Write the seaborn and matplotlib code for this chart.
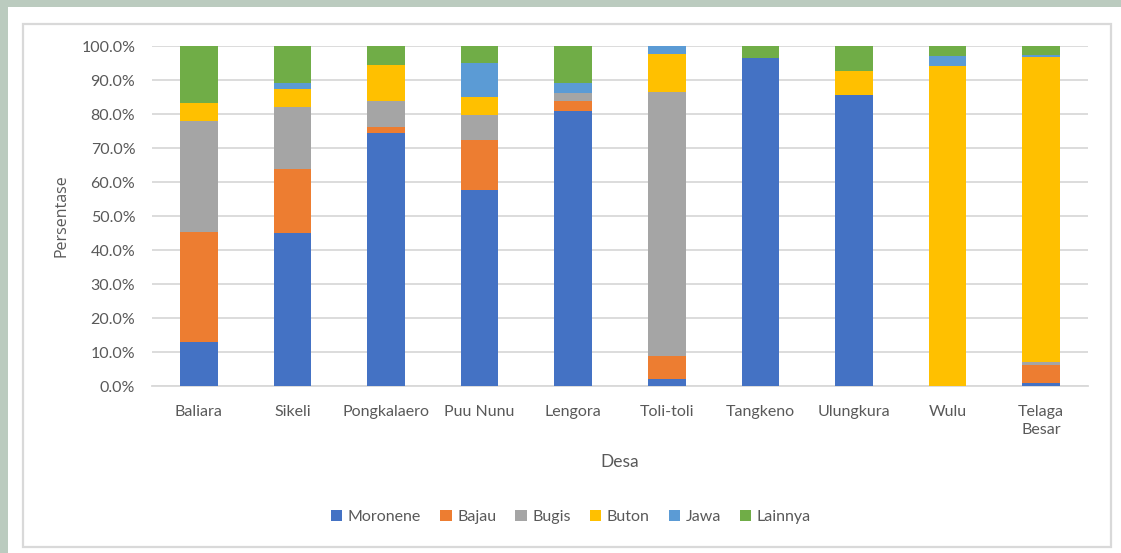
import numpy as np
import pandas as pd
import matplotlib
matplotlib.use("Agg")
import matplotlib.pyplot as plt
import seaborn as sns
from matplotlib.patches import Rectangle, Patch
from matplotlib.ticker import FuncFormatter

# ---- data ----
desa = ["Baliara", "Sikeli", "Pongkalaero", "Puu Nunu", "Lengora",
        "Toli-toli", "Tangkeno", "Ulungkura", "Wulu", "Telaga Besar"]
desa_labels = ["Baliara", "Sikeli", "Pongkalaero", "Puu Nunu", "Lengora",
               "Toli-toli", "Tangkeno", "Ulungkura", "Wulu", "Telaga\nBesar"]
groups = ["Moronene", "Bajau", "Bugis", "Buton", "Jawa", "Lainnya"]
moronene = [13.0, 45.1, 74.4, 57.6, 81.0, 2.2, 96.4, 85.7, 0.0, 0.8]
bajau = [32.4, 18.8, 1.7, 14.8, 2.7, 6.6, 0.0, 0.0, 0.0, 5.3]
bugis = [32.5, 18.2, 7.6, 7.4, 2.6, 77.8, 0.0, 0.0, 0.0, 1.0]
buton = [5.2, 5.3, 10.8, 5.1, 0.0, 11.0, 0.0, 7.0, 94.2, 89.7]
jawa = [0.0, 1.8, 0.0, 10.1, 2.9, 2.4, 0.0, 0.0, 2.9, 0.7]
lainnya = [16.9, 10.8, 5.5, 5.0, 10.8, 0.0, 3.6, 7.3, 2.9, 2.5]
yticks = [0, 10, 20, 30, 40, 50, 60, 70, 80, 90, 100]

colors = ["#4472C4", "#ED7D31", "#A5A5A5", "#FFC000", "#5B9BD5", "#70AD47"]
text_color = "#595959"
grid_color = "#D9D9D9"

sns.set_theme(style="white")
plt.rcParams["font.family"] = ["Lato", "DejaVu Sans"]

W, H = 1121, 553
fig = plt.figure(figsize=(W / 100, H / 100), dpi=100)
fig.patch.set_facecolor("white")

# outer decorations (page background strips and chart border)
bg = "#BBCBBF"
fig.patches.append(Rectangle((0, 1 - 7 / H), 1, 7 / H, transform=fig.transFigure,
                             facecolor=bg, edgecolor="none", zorder=0))
fig.patches.append(Rectangle((0, 0), 8 / W, 1, transform=fig.transFigure,
                             facecolor=bg, edgecolor="none", zorder=0))
fig.patches.append(Rectangle((23 / W, 1 - 547 / H), 1088 / W, 523 / H,
                             transform=fig.transFigure, facecolor="none",
                             edgecolor=grid_color, linewidth=1.6, zorder=1))

ax = fig.add_axes([152 / W, 1 - 386 / H, 936 / W, 340 / H])
ax.set_facecolor("none")

data = np.array([moronene, bajau, bugis, buton, jawa, lainnya])
cum = np.cumsum(data, axis=0)
for i in reversed(range(len(groups))):
    df = pd.DataFrame({"Desa": desa, "v": cum[i]})
    sns.barplot(data=df, x="Desa", y="v", color=colors[i], width=0.4,
                errorbar=None, saturation=1, linewidth=0, ax=ax, zorder=3)

ax.set_xlim(-0.5, len(desa) - 0.5)
ax.set_ylim(0, 100)
ax.set_yticks(yticks)
ax.yaxis.set_major_formatter(FuncFormatter(lambda v, p: f"{v:.1f}%"))
ax.set_xticks(range(len(desa)))
ax.set_xticklabels(desa_labels, color=text_color, fontsize=11.5, linespacing=1.3)
for t in ax.get_yticklabels():
    t.set_color(text_color)
    t.set_fontsize(11.5)
ax.tick_params(axis="both", length=0)
ax.tick_params(axis="x", pad=14)
ax.tick_params(axis="y", pad=12)

ax.grid(axis="y", color=grid_color, linewidth=1.3, zorder=0)
ax.set_axisbelow(True)
for s in ["top", "right", "left"]:
    ax.spines[s].set_visible(False)
ax.spines["bottom"].set_color(grid_color)
ax.spines["bottom"].set_linewidth(1.3)

ax.set_xlabel("Desa", color=text_color, fontsize=12.5)
ax.xaxis.set_label_coords(0.5, -0.2)
ax.set_ylabel("Persentase", color=text_color, fontsize=11.5,
              family=["Open Sans", "DejaVu Sans"])
ax.yaxis.set_label_coords(-0.088, 0.5)

handles = [Patch(facecolor=c, edgecolor="none") for c in colors]
fig.legend(handles, groups, loc="center", bbox_to_anchor=(571 / W, 1 - 517 / H),
           ncol=6, frameon=False, fontsize=11.5, handlelength=0.7, handleheight=0.7,
           handletextpad=0.35, columnspacing=1.2, labelcolor=text_color)

fig.savefig("out.png", dpi=100)
